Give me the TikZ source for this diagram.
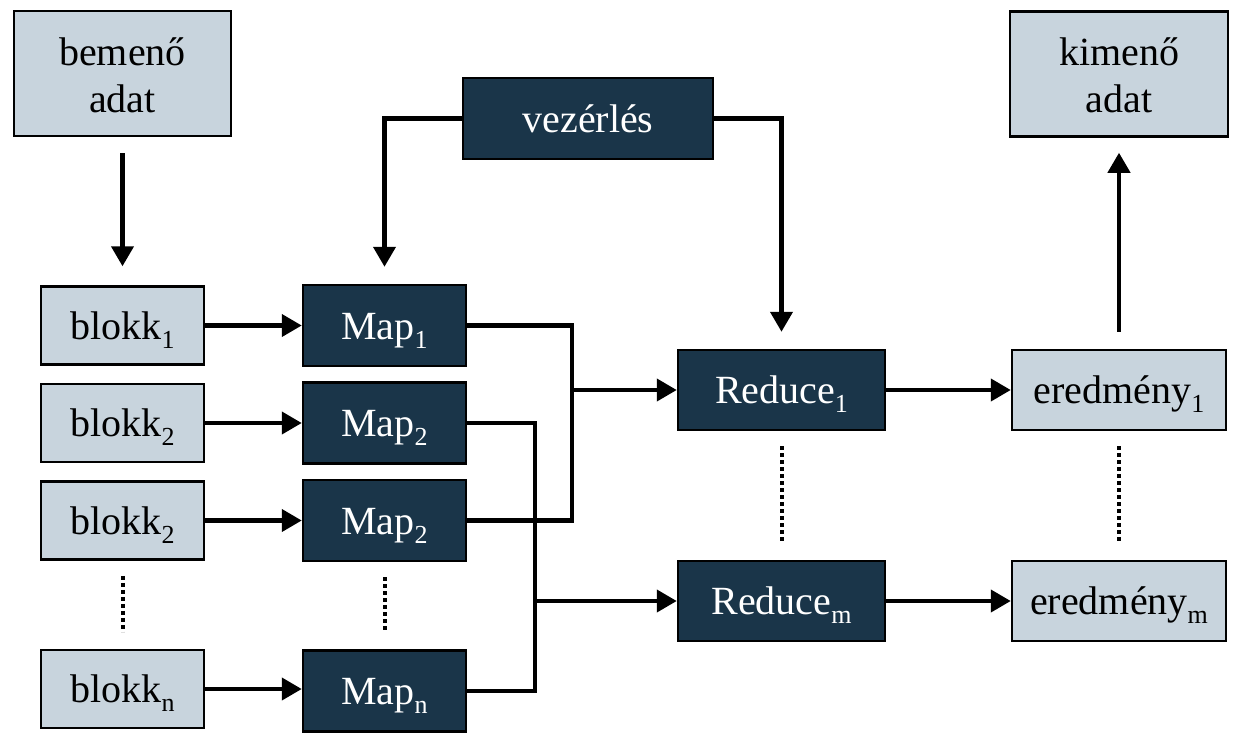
\documentclass[tikz,border=0pt]{standalone}
\usepackage{fontspec}
\setmainfont{Liberation Serif}
\usetikzlibrary{arrows.meta,calc}
\definecolor{lightfill}{RGB}{200,212,221}
\definecolor{darkfill}{RGB}{26,53,73}
\newcommand\sbs[1]{\raisebox{-9pt}{\fontsize{26}{26}\selectfont #1}}
\tikzset{
  box/.style={draw=black, line width=2.5pt, inner sep=0pt, align=center, font=\fontsize{40}{47}\selectfont},
  lightbox/.style={box, fill=lightfill, text=black},
  darkbox/.style={box, fill=darkfill, text=white},
  oneline/.style={text height=27pt, text depth=0pt},
  twoline/.style={text height=87pt, text depth=10pt},
  conn/.style={line width=4.2pt, draw=black},
  arr/.style={conn, -{Triangle[length=20pt,width=22pt]}},
  dots/.style={line width=4pt, dash pattern=on 4pt off 3pt}
}
\begin{document}
\begin{tikzpicture}[x=1pt,y=-1pt]
\useasboundingbox (0,0) rectangle (1245,745);
% top boxes
\node[lightbox, twoline, minimum width=217pt, minimum height=125pt] (bem) at (122.5,73.5) {bemenő\\adat};
\node[lightbox, twoline, minimum width=218pt, minimum height=125pt] (kim) at (1119,74) {kimenő\\adat};
\node[darkbox, oneline, minimum width=250pt, minimum height=81pt] (vez) at (588,118.5) {vezérlés};
% blokk column
\tikzset{bl/.style={lightbox, oneline, minimum width=163pt, minimum height=78pt}}
\node[bl] (b1) at (122.5,325.5) {blokk\sbs{1}};
\node[bl] (b2) at (122.5,423) {blokk\sbs{2}};
\node[bl] (b3) at (122.5,520.5) {blokk\sbs{2}};
\node[bl] (bn) at (122.5,689) {blokk\sbs{n}};
% map column
\tikzset{mp/.style={darkbox, oneline, minimum width=163pt, minimum height=81pt}}
\node[mp] (m1) at (384.5,325.5) {Map\sbs{1}};
\node[mp] (m2) at (384.5,423) {Map\sbs{2}};
\node[mp] (m3) at (384.5,520.5) {Map\sbs{2}};
\node[mp] (mn) at (384.5,691) {Map\sbs{n}};
% reduce column
\tikzset{rd/.style={darkbox, oneline, minimum width=207pt, minimum height=80pt}}
\node[rd] (r1) at (781.5,390) {Reduce\sbs{1}};
\node[rd] (rm) at (781.5,601) {Reduce\sbs{m}};
% result column
\tikzset{er/.style={lightbox, oneline, minimum width=214pt, minimum height=80pt}}
\node[er] (e1) at (1119,390) {eredmény\sbs{1}};
\node[er] (em) at (1119,601) {eredmény\sbs{m}};
% connectors
\draw[arr] ($(bem.south)+(0,16)$) -- ($(b1.north)+(0,-19)$);
\draw[arr] (vez.west) -| ($(m1.north)+(0,-17)$);
\draw[arr] (vez.east) -| ($(r1.north)+(0,-17)$);
\draw[arr] ($(e1.north)+(0,-17)$) -- ($(kim.south)+(0,15)$);
\draw[arr] (b1.east) -- (b1.east -| m1.west);
\draw[arr] (b2.east) -- (b2.east -| m2.west);
\draw[arr] (b3.east) -- (b3.east -| m3.west);
\draw[arr] (bn.east) -- (bn.east -| mn.west);
\coordinate (j1) at (572,390);
\coordinate (j2) at (535,601);
\draw[conn] (m1.east) -| (j1) |- (m3.east);
\draw[conn] (m2.east) -| (j2) |- (mn.east);
\draw[arr] (j1) -- (r1.west);
\draw[arr] (j2) -- (rm.west);
\draw[arr] (r1.east) -- (e1.west);
\draw[arr] (rm.east) -- (em.west);
% dotted continuation marks
\draw[dots] ($(b3.south)+(0,15)$) -- ($(bn.north)+(0,-17)$);
\draw[dots] ($(m3.south)+(0,15)$) -- ($(mn.north)+(0,-17)$);
\draw[dots] ($(r1.south)+(0,15)$) -- ($(rm.north)+(0,-16)$);
\draw[dots] ($(e1.south)+(0,15)$) -- ($(em.north)+(0,-16)$);
\end{tikzpicture}
\end{document}
